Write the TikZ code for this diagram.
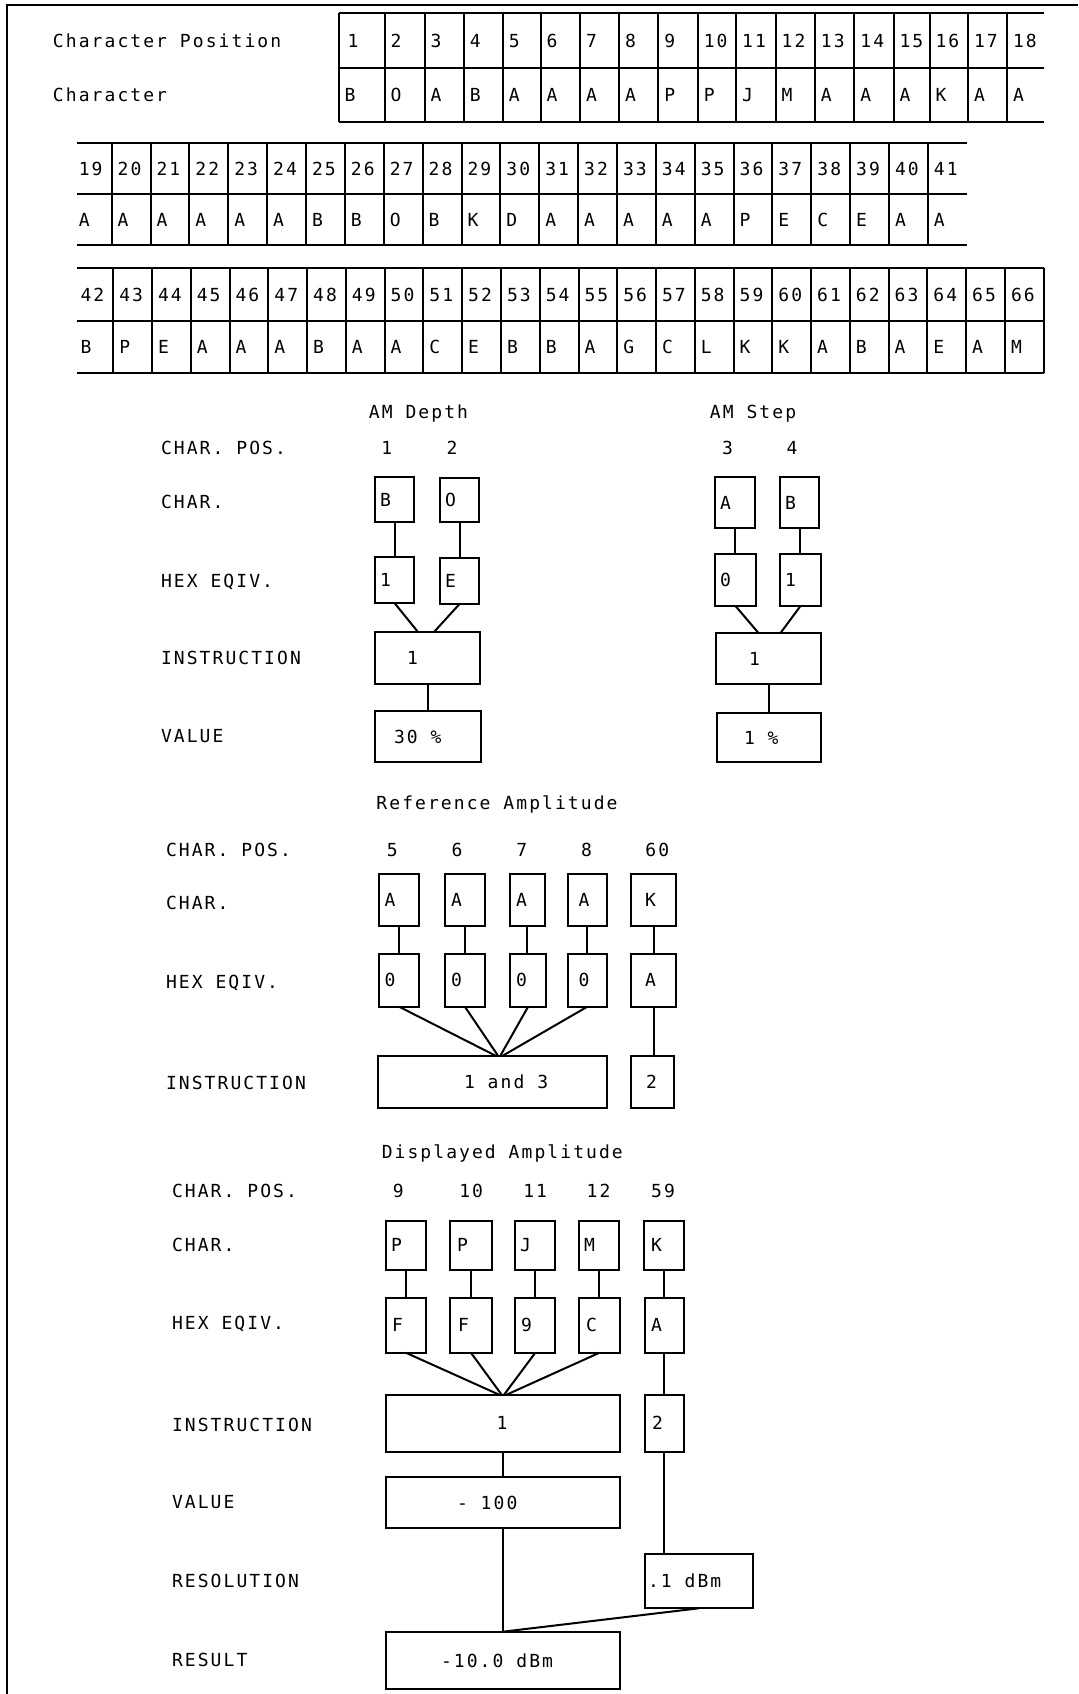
\documentclass[tikz,border=0pt]{standalone}
\usepackage{fontspec}
\newfontfamily\plotfont{DejaVu Sans Mono}[LetterSpace=11.5]
\usetikzlibrary{calc}
\newcommand\bx[7]{%
  \node[box, minimum width={(#4-#2)*0.5pt}, minimum height={(#5-#3)*0.5pt}] (#1) at ({(#2+#4)/2},{(#3+#5)/2}) {};
  \node[txt] (#1-t) at (#6,{(#3+#5)/2+6.5}) {#7};}
\begin{document}
\begin{tikzpicture}[x=0.5pt,y=-0.5pt,
  every node/.style={inner sep=0pt, outer sep=0pt, font=\plotfont\fontsize{9}{11}\selectfont},
  ln/.style={line width=1pt},
  box/.style={draw, line width=1pt, rectangle},
  txt/.style={anchor=base west},
  ctxt/.style={anchor=base}]
\fill[white] (0,0) rectangle (1078,1694);
\useasboundingbox (0,0) rectangle (1078,1694);
% frame
\coordinate (fTL) at (7,5); \coordinate (fTR) at (1078,5); \coordinate (fBL) at (7,1694);
\draw[ln] (fTR) -- (fTL) -- (fBL);
% ---------- row 1
\node[txt] (lblpos) at (53,47) {Character Position};
\node[txt] (lblchr) at (53,101.5) {Character};
\foreach \y in {13,68,122} \draw[ln] (338.5,\y) -- (1043.8,\y);
\foreach \x/\n/\c/\d in {338.5/1/B/3,384.6/2/O/0,424.6/3/A/0,463.8/4/B/0,502.8/5/A/0,540.5/6/A/0,580/7/A/0,619.1/8/A/0,658.3/9/P/0,697.8/10/P/0,736.2/11/J/0,775.7/12/M/0,814.9/13/A/0,854.4/14/A/0,893.5/15/A/0,929.5/16/K/0,968/17/A/0,1007.1/18/A/0}{
  \draw[ln] (\x,13) -- (\x,122);
  \node[txt] (pos\n) at (\x+6+\d,47) {\n};
  \node[txt] (chr\n) at (\x+6,101.5) {\c};
}
% ---------- row 2
\foreach \y in {143,194,245} \draw[ln] (76.7,\y) -- (966.6,\y);
\foreach \n/\c [count=\k from 0] in {19/A,20/A,21/A,22/A,23/A,24/A,25/B,26/B,27/O,28/B,29/K,30/D,31/A,32/A,33/A,34/A,35/A,36/P,37/E,38/C,39/E,40/A,41/A}{
  \pgfmathsetmacro\xl{111.7+(\k-1)*38.87}
  \ifnum\k>0 \draw[ln] (\xl,143) -- (\xl,245); \fi
  \node[txt] (pos\n) at (\xl+6,175) {\n};
  \node[txt] (chr\n) at (\xl+6,226) {\c};
}
% ---------- row 3
\foreach \y in {268,321,373} \draw[ln] (76.7,\y) -- (1043.8,\y);
\draw[ln] (1043.8,268) -- (1043.8,373);
\foreach \n/\c [count=\k from 0] in {42/B,43/P,44/E,45/A,46/A,47/A,48/B,49/A,50/A,51/C,52/E,53/B,54/B,55/A,56/G,57/C,58/L,59/K,60/K,61/A,62/B,63/A,64/E,65/A,66/M}{
  \pgfmathsetmacro\xl{113.3+(\k-1)*38.77}
  \ifnum\k>0 \draw[ln] (\xl,268) -- (\xl,373); \fi
  \node[txt] (pos\n) at (\xl+6,301) {\n};
  \node[txt] (chr\n) at (\xl+6,353.5) {\c};
}
% ---------- AM Depth / AM Step
\node[ctxt] (tAMD) at (418.5,418.2) {AM Depth};
\node[ctxt] (tAMS) at (753,418.2) {AM Step};
\node[txt] (aLpos) at (161,454.5) {CHAR. POS.};
\node[txt] (aLchr) at (161,508.2) {CHAR.};
\node[txt] (aLhex) at (161,587.5) {HEX EQIV.};
\node[txt] (aLins) at (161,664.8) {INSTRUCTION};
\node[txt] (aLval) at (161,742.5) {VALUE};
\node[ctxt] (aN1) at (386.7,454.5) {1};
\node[ctxt] (aN2) at (452,454.5) {2};
\node[ctxt] (aN3) at (727.6,454.5) {3};
\node[ctxt] (aN4) at (792,454.5) {4};
\bx{amB}{375}{477}{414}{522}{380}{B}
\bx{amO}{440}{478}{479}{522}{445}{O}
\bx{amH1}{375}{557}{414}{603}{380}{1}
\bx{amHE}{440}{558}{479}{604}{445}{E}
\bx{amI}{375}{632}{480}{684}{407}{1}
\bx{amV}{375}{711}{481}{762}{394}{30 \%}
\bx{asA}{715}{477}{755}{528}{720}{A}
\bx{asB}{780}{477}{819}{528}{785}{B}
\bx{asH0}{715}{554}{756}{606}{720}{0}
\bx{asH1}{780}{554}{821}{606}{785}{1}
\bx{asI}{716}{633}{821}{684}{749}{1}
\bx{asV}{717}{713}{821}{762}{744}{1 \%}
\draw[ln] (amB.south) -- (amB.south |- amH1.north);
\draw[ln] (amO.south) -- (amO.south |- amHE.north);
\draw[ln] (amH1.south) -- ($(amI.north)+(-9.5,0)$);
\draw[ln] (amHE.south) -- ($(amI.north)+(6.5,0)$);
\draw[ln] (amI.south) -- (amI.south |- amV.north);
\draw[ln] (asA.south) -- (asA.south |- asH0.north);
\draw[ln] (asB.south) -- (asB.south |- asH1.north);
\draw[ln] (asH0.south) -- ($(asI.north)+(-10,0)$);
\draw[ln] (asH1.south) -- ($(asI.north)+(12,0)$);
\draw[ln] (asI.south) -- (asI.south |- asV.north);
% ---------- Reference Amplitude
\node[ctxt] (tRA) at (497,809.8) {Reference Amplitude};
\node[txt] (rLpos) at (166,856.5) {CHAR. POS.};
\node[txt] (rLchr) at (166,909.8) {CHAR.};
\node[txt] (rLhex) at (166,988.2) {HEX EQIV.};
\node[txt] (rLins) at (166,1089.8) {INSTRUCTION};
\node[ctxt] (rN5) at (392.4,856.5) {5};
\node[ctxt] (rN6) at (457,856.5) {6};
\node[ctxt] (rN7) at (521.9,856.5) {7};
\node[ctxt] (rN8) at (586.6,856.5) {8};
\node[ctxt] (rN60) at (657.3,856.5) {60};
\bx{rc1}{379}{874.3}{419.2}{925.7}{384.5}{A}
\bx{rc2}{445}{874.3}{484.8}{925.7}{451}{A}
\bx{rc3}{509.8}{874.3}{545}{925.7}{516}{A}
\bx{rc4}{567.9}{874.3}{606.7}{925.7}{578.5}{A}
\bx{rc5}{631.3}{874.3}{675.9}{925.7}{645}{K}
\bx{rh1}{379}{954}{419.2}{1006.7}{384.5}{0}
\bx{rh2}{445}{954}{484.8}{1006.7}{451}{0}
\bx{rh3}{509.8}{954}{546.4}{1006.7}{516}{0}
\bx{rh4}{567.9}{954}{606.7}{1006.7}{578.5}{0}
\bx{rh5}{631.3}{954}{675.9}{1006.7}{645}{A}
\bx{ri}{377.7}{1056}{606.7}{1108.3}{464}{1 and 3}
\bx{ri2}{631.3}{1056}{673.7}{1108.3}{646}{2}
\foreach \i in {1,...,5} \draw[ln] (rc\i.south) -- (rc\i.south |- rh\i.north);
\draw[ln] (rh1.south) -- ($(ri.north)+(4,0)$);
\draw[ln] (rh2.south) -- ($(ri.north)+(6,0)$);
\draw[ln] (rh3.south) -- ($(ri.north)+(8,0)$);
\draw[ln] (rh4.south) -- ($(ri.north)+(10,0)$);
\draw[ln] (rh5.south) -- (rh5.south |- ri2.north);
% ---------- Displayed Amplitude
\node[ctxt] (tDA) at (502.3,1158.2) {Displayed Amplitude};
\node[txt] (dLpos) at (172,1197.5) {CHAR. POS.};
\node[txt] (dLchr) at (172,1251.5) {CHAR.};
\node[txt] (dLhex) at (172,1329.8) {HEX EQIV.};
\node[txt] (dLins) at (172,1431.5) {INSTRUCTION};
\node[txt] (dLval) at (172,1508.2) {VALUE};
\node[txt] (dLres) at (172,1587.5) {RESOLUTION};
\node[txt] (dLrsl) at (172,1666.5) {RESULT};
\node[ctxt] (dN9) at (398.2,1197.5) {9};
\node[ctxt] (dN10) at (471.2,1197.5) {10};
\node[ctxt] (dN11) at (535.2,1197.5) {11};
\node[ctxt] (dN12) at (598.6,1197.5) {12};
\node[ctxt] (dN59) at (663,1197.5) {59};
\bx{dc1}{385.7}{1220.7}{425.9}{1270}{391}{P}
\bx{dc2}{450.4}{1220.7}{491.5}{1270}{457}{P}
\bx{dc3}{515.2}{1220.7}{554.5}{1270}{520}{J}
\bx{dc4}{579}{1220.7}{619.2}{1270}{584}{M}
\bx{dc5}{643.8}{1220.7}{683.9}{1270}{651}{K}
\bx{dh1}{385.7}{1297.7}{425.9}{1352.7}{392}{F}
\bx{dh2}{450.4}{1297.7}{491.5}{1352.7}{458}{F}
\bx{dh3}{515.2}{1297.7}{555.4}{1352.7}{521}{9}
\bx{dh4}{579}{1297.7}{620}{1352.7}{586}{C}
\bx{dh5}{644.6}{1297.7}{683.9}{1352.7}{651}{A}
\bx{di}{385.7}{1395}{620}{1451.7}{496.5}{1}
\bx{d2}{644.6}{1395}{683.9}{1451.7}{652}{2}
\bx{dv}{385.7}{1476.7}{620}{1528.3}{457}{- 100}
\bx{dres}{644.6}{1554}{752.7}{1608.3}{648}{.1 dBm}
\bx{drs}{385.7}{1631.7}{620}{1689.3}{441}{-10.0 dBm}
\foreach \i in {1,...,5} \draw[ln] (dc\i.south) -- (dc\i.south |- dh\i.north);
\draw[ln] (dh1.south) -- ($(di.north)+(-3,0)$);
\draw[ln] (dh2.south) -- ($(di.north)+(-1,0)$);
\draw[ln] (dh3.south) -- ($(di.north)+(1,0)$);
\draw[ln] (dh4.south) -- ($(di.north)+(3,0)$);
\draw[ln] (dh5.south) -- (dh5.south |- d2.north);
\draw[ln] (di.south) -- (di.south |- dv.north);
\draw[ln] (d2.south) -- (d2.south |- dres.north);
\draw[ln] (dv.south) -- (dv.south |- drs.north);
\draw[ln] (dres.south) -- (drs.north);
\end{tikzpicture}
\end{document}
